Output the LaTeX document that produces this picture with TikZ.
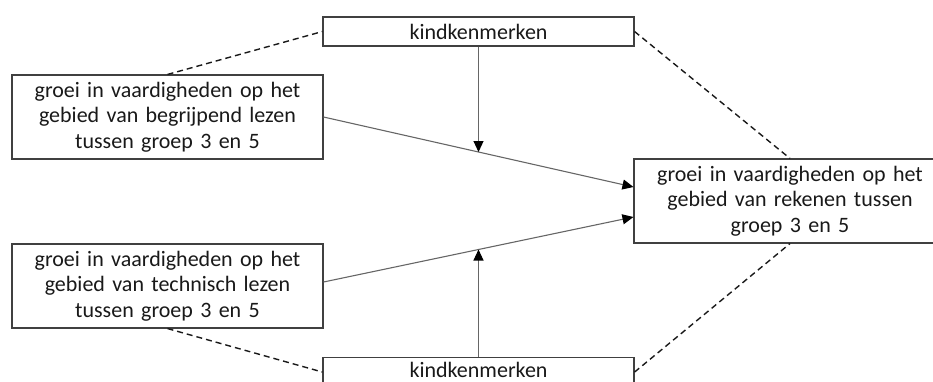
\documentclass[tikz,border=0pt]{standalone}
\usepackage{fontspec}
\setmainfont{Carlito}
\usetikzlibrary{arrows.meta}
\begin{document}
\begin{tikzpicture}[x=1pt,y=-1pt,
  box/.style={draw=black!75,line width=1.1pt,fill=white,inner sep=0pt,align=center,
    font=\fontsize{22}{25.5}\selectfont,text=black!90,minimum width=311pt},
  bigbox/.style={box,minimum height=84pt,text width=305pt},
  smallbox/.style={box,minimum height=29pt},
  dashline/.style={dashed,dash pattern=on 6pt off 4pt,line width=1.4pt,black!90},
  arr/.style={line width=1.1pt,black!60,-{Triangle[length=11pt,width=10pt,fill=black,color=black]}}]
\useasboundingbox (0,0) rectangle (933,381);
\clip (0,0) rectangle (933,381);
\node[smallbox] (tb) at (478.5,31.5) {kindkenmerken};
\node[bigbox] (lt) at (167.5,117) {groei in vaardigheden op het\\gebied van begrijpend lezen\\tussen groep 3 en 5};
\node[bigbox] (lb) at (167.5,286) {groei in vaardigheden op het\\gebied van technisch lezen\\tussen groep 3 en 5};
\node[smallbox,anchor=north] (bb) at (478.5,357) {\raisebox{2pt}[\height][\depth]{kindkenmerken}};
\node[bigbox,minimum width=312pt] (rb) at (790,201) {groei in vaardigheden op het\\gebied van rekenen tussen\\groep 3 en 5};
\coordinate (rbu) at ([yshift=14pt]rb.west);
\coordinate (rbd) at ([yshift=-16pt]rb.west);
\coordinate (lbe) at ([yshift=4pt]lb.east);
\draw[dashline] (lt.north) -- (tb.west);
\draw[dashline] (tb.east) -- (rb.north);
\draw[dashline] (lb.south) -- (bb.west);
\draw[dashline] (bb.east) -- (rb.south);
\draw[arr] (lt.east) -- coordinate[pos=0.5] (m1) (rbu);
\draw[arr] (lbe) -- coordinate[pos=0.5] (m2) (rbd);
\draw[arr] (tb.south) -- (m1);
\draw[arr] (bb.north) -- (m2);
\end{tikzpicture}
\end{document}
